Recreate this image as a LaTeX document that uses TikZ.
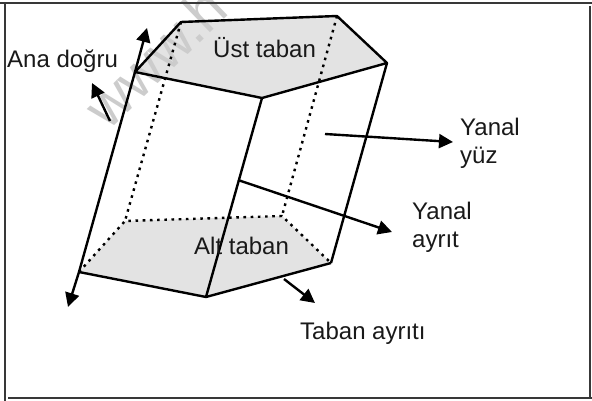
\documentclass[tikz,border=0pt]{standalone}
\usepackage{fontspec}
\setmainfont{Liberation Sans}
\usetikzlibrary{arrows.meta}
\definecolor{basegray}{gray}{0.89}
\definecolor{frameink}{gray}{0.22}
\tikzset{
  edge/.style={line width=2.4pt,line join=round,black},
  hidden/.style={line width=2.4pt,black,dash pattern=on 2.6pt off 4.6pt},
  pointer/.style={line width=2.4pt,black,-{Triangle[length=14pt,width=14pt]}},
  frameline/.style={line width=1.4pt,frameink},
  lbl/.style={font=\fontsize{24}{28}\selectfont,inner sep=0pt,text=black!90,anchor=base west},
  wm/.style={font=\fontsize{58}{64}\selectfont,text=black!20,inner sep=0pt,rotate=44}
}
\begin{document}
\begin{tikzpicture}[x=1pt,y=-1pt]
\useasboundingbox (0,0) rectangle (592,401);
\fill[white] (0,0) rectangle (592,401);
% frame
\coordinate (f1) at (0,3); \coordinate (f2) at (592,3);
\coordinate (f3) at (5,3); \coordinate (f4) at (5,401);
\coordinate (f5) at (8,398); \coordinate (f6) at (592,398);
\coordinate (f7) at (590,6); \coordinate (f8) at (590,398);
% vertices
\coordinate (A) at (135,72); \coordinate (B) at (181,22); \coordinate (C) at (337,16);
\coordinate (D) at (387,63); \coordinate (E) at (262,98);
\coordinate (F) at (79,272); \coordinate (G) at (125,221); \coordinate (H) at (282,216);
\coordinate (I) at (331,263); \coordinate (J) at (206,297);
\fill[basegray] (A)--(B)--(C)--(D)--(E)--cycle;
\fill[basegray] (F)--(G)--(H)--(I)--(J)--cycle;
% watermark
\begin{scope}
\clip (0,0) rectangle (592,401);
\node[wm] (wm) at (155,57) {www.h};
\end{scope}
\draw[frameline] (f1)--(f2); \draw[frameline] (f3)--(f4);
\draw[frameline] (f5)--(f6); \draw[frameline] (f7)--(f8);
% hidden edges
\draw[hidden] (B)--(G);
\draw[hidden] (C)--(H);
\draw[hidden] (F)--(G)--(H)--(I);
% visible edges
\draw[edge] (A)--(B)--(C)--(D)--(E)--cycle;
\draw[edge] (F)--(J)--(I);
\draw[edge] (E)--(J);
\draw[edge] (D)--(I);
% pointers
\coordinate (ma) at (147,28); \coordinate (mb) at (68,307);
\draw[pointer] (A)--(ma);
\draw[pointer] (F)--(mb);
\draw[edge] (A)--(F);
\coordinate (p1) at (110,121); \coordinate (p2) at (92,83);
\draw[pointer] (p1)--(p2);
\coordinate (y1) at (325,134); \coordinate (y2) at (453,142);
\draw[pointer] (y1)--(y2);
\coordinate (r1) at (238,180); \coordinate (r2) at (392,232);
\draw[pointer] (r1)--(r2);
\coordinate (t1) at (284,279); \coordinate (t2) at (315,303);
\draw[pointer] (t1)--(t2);
% labels
\node[lbl] (ana) at (7,68) {Ana doğru};
\node[lbl] (ust) at (213,58) {Üst taban};
\node[lbl] (alt) at (194,254) {Alt taban};
\node[lbl] (yy1) at (460,136) {Yanal};
\node[lbl] (yy2) at (460,164) {yüz};
\node[lbl] (ya1) at (412,219) {Yanal};
\node[lbl] (ya2) at (412,247) {ayrıt};
\node[lbl] (tab) at (300,339) {Taban ayrıtı};
\end{tikzpicture}
\end{document}
